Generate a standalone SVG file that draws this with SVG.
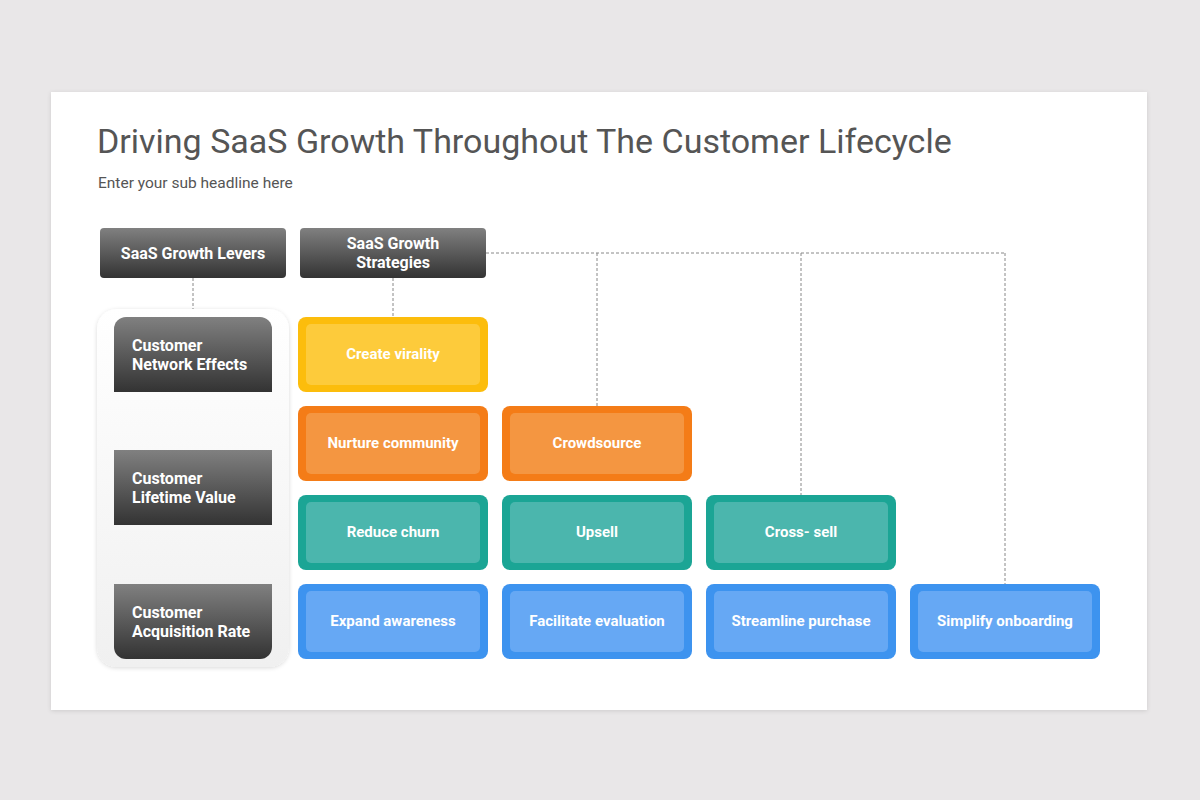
<svg xmlns="http://www.w3.org/2000/svg" width="1200" height="800" viewBox="0 0 1200 800">
<defs>
<linearGradient id="dark" x1="0" y1="0" x2="0" y2="1">
<stop offset="0" stop-color="#808080"/>
<stop offset="1" stop-color="#333333"/>
</linearGradient>
<linearGradient id="panel" x1="0" y1="0" x2="0" y2="1">
<stop offset="0" stop-color="#ffffff"/>
<stop offset="1" stop-color="#f0f0f0"/>
</linearGradient>
<filter id="shadow" x="-5%" y="-5%" width="110%" height="110%">
<feDropShadow dx="0" dy="1" stdDeviation="2" flood-color="#000" flood-opacity="0.12"/>
</filter>
<filter id="pshadow" x="-10%" y="-10%" width="120%" height="120%">
<feDropShadow dx="0" dy="1" stdDeviation="2" flood-color="#000" flood-opacity="0.15"/>
</filter>
</defs>
<style>
.title{font-family:Roboto,"Liberation Sans",sans-serif;font-weight:400;font-size:34px;fill:#555}
.sub{font-family:Roboto,"Liberation Sans",sans-serif;font-size:15.5px;fill:#555}
.hd{font-family:Roboto,"Liberation Sans",sans-serif;font-weight:700;font-size:16px;fill:#fff}
.lv{font-family:Roboto,"Liberation Sans",sans-serif;font-weight:700;font-size:16px;fill:#fff}
.st{font-family:Roboto,"Liberation Sans",sans-serif;font-weight:700;font-size:15px;fill:#fff;text-anchor:middle}
.conn{fill:none;stroke:#888;stroke-width:1;stroke-dasharray:3 2}
.y1{fill:#fcbd0c}.y2{fill:#fdcb3b}
.o1{fill:#f47c17}.o2{fill:#f49641}
.t1{fill:#1ba595}.t2{fill:#4bb6ad}
.b1{fill:#3d93ef}.b2{fill:#66a8f4}
</style>
<rect width="1200" height="800" fill="#e9e7e8"/>
<rect x="51" y="92" width="1096" height="618" fill="#ffffff" filter="url(#shadow)"/>
<text class="title" x="97" y="153">Driving SaaS Growth Throughout The Customer Lifecycle</text>
<text class="sub" x="98" y="188">Enter your sub headline here</text>

<g id="connectors">
<path class="conn" d="M193 278V309"/>
<path class="conn" d="M393 278V317"/>
<path class="conn" d="M486 253H1005"/>
<path class="conn" d="M597 253V406"/>
<path class="conn" d="M801 253V495"/>
<path class="conn" d="M1005 253V584"/>
</g>

<g id="hdr-levers">
<rect x="100" y="228" width="186" height="50" rx="4" fill="url(#dark)"/>
<text class="hd" x="193" y="259" text-anchor="middle">SaaS Growth Levers</text>
</g>
<g id="hdr-strategies">
<rect x="300" y="228" width="186" height="50" rx="4" fill="url(#dark)"/>
<text class="hd" x="393" y="249" text-anchor="middle">SaaS Growth</text>
<text class="hd" x="393" y="268" text-anchor="middle">Strategies</text>
</g>

<g id="levers-panel">
<rect x="97" y="309" width="192" height="358" rx="20" fill="url(#panel)" filter="url(#pshadow)"/>
</g>
<g id="lever-network">
<path d="M126 317H260A12 12 0 0 1 272 329V392H114V329A12 12 0 0 1 126 317Z" fill="url(#dark)"/>
<text class="lv" x="132" y="351">Customer</text>
<text class="lv" x="132" y="370">Network Effects</text>
</g>
<g id="lever-lifetime">
<rect x="114" y="450" width="158" height="75" fill="url(#dark)"/>
<text class="lv" x="132" y="484">Customer</text>
<text class="lv" x="132" y="503">Lifetime Value</text>
</g>
<g id="lever-acquisition">
<path d="M114 584H272V647A12 12 0 0 1 260 659H126A12 12 0 0 1 114 647Z" fill="url(#dark)"/>
<text class="lv" x="132" y="618">Customer</text>
<text class="lv" x="132" y="637">Acquisition Rate</text>
</g>

<g id="s-virality">
<rect class="y1" x="298" y="317" width="190" height="75" rx="8"/>
<rect class="y2" x="306" y="324" width="174" height="61" rx="5"/>
<text class="st" x="393" y="359">Create virality</text>
</g>
<g id="s-community">
<rect class="o1" x="298" y="406" width="190" height="75" rx="8"/>
<rect class="o2" x="306" y="413" width="174" height="61" rx="5"/>
<text class="st" x="393" y="448">Nurture community</text>
</g>
<g id="s-crowdsource">
<rect class="o1" x="502" y="406" width="190" height="75" rx="8"/>
<rect class="o2" x="510" y="413" width="174" height="61" rx="5"/>
<text class="st" x="597" y="448">Crowdsource</text>
</g>
<g id="s-churn">
<rect class="t1" x="298" y="495" width="190" height="75" rx="8"/>
<rect class="t2" x="306" y="502" width="174" height="61" rx="5"/>
<text class="st" x="393" y="537">Reduce churn</text>
</g>
<g id="s-upsell">
<rect class="t1" x="502" y="495" width="190" height="75" rx="8"/>
<rect class="t2" x="510" y="502" width="174" height="61" rx="5"/>
<text class="st" x="597" y="537">Upsell</text>
</g>
<g id="s-crosssell">
<rect class="t1" x="706" y="495" width="190" height="75" rx="8"/>
<rect class="t2" x="714" y="502" width="174" height="61" rx="5"/>
<text class="st" x="801" y="537">Cross- sell</text>
</g>
<g id="s-awareness">
<rect class="b1" x="298" y="584" width="190" height="75" rx="8"/>
<rect class="b2" x="306" y="591" width="174" height="61" rx="5"/>
<text class="st" x="393" y="626">Expand awareness</text>
</g>
<g id="s-evaluation">
<rect class="b1" x="502" y="584" width="190" height="75" rx="8"/>
<rect class="b2" x="510" y="591" width="174" height="61" rx="5"/>
<text class="st" x="597" y="626">Facilitate evaluation</text>
</g>
<g id="s-purchase">
<rect class="b1" x="706" y="584" width="190" height="75" rx="8"/>
<rect class="b2" x="714" y="591" width="174" height="61" rx="5"/>
<text class="st" x="801" y="626">Streamline purchase</text>
</g>
<g id="s-onboarding">
<rect class="b1" x="910" y="584" width="190" height="75" rx="8"/>
<rect class="b2" x="918" y="591" width="174" height="61" rx="5"/>
<text class="st" x="1005" y="626">Simplify onboarding</text>
</g>
</svg>
